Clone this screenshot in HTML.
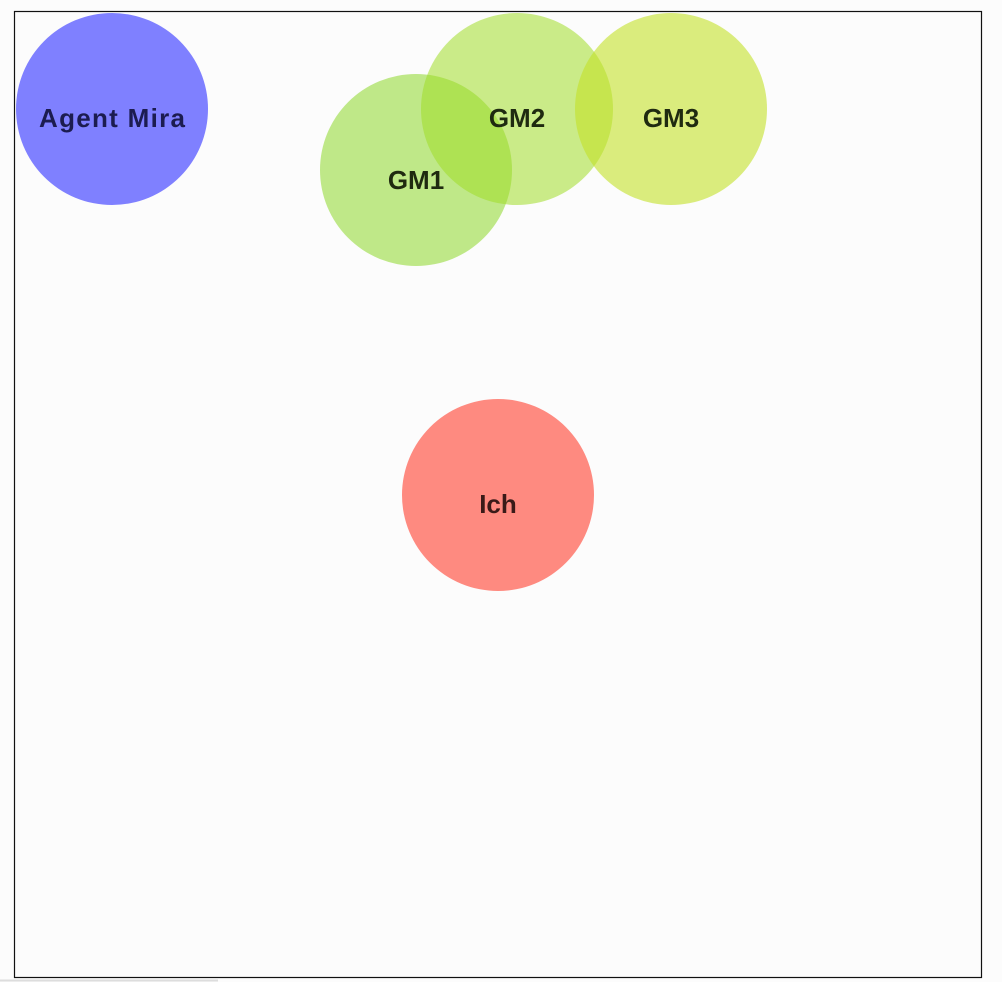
<!DOCTYPE html>
<html><head><style>
html,body{margin:0;padding:0;background:#fcfcfc;width:1002px;height:982px;overflow:hidden}
svg{position:absolute;left:0;top:0}
text{font-family:"Liberation Sans",sans-serif;font-weight:bold;font-size:26px;text-anchor:middle;dominant-baseline:middle}
</style></head><body>
<svg width="1002" height="982">
<rect x="0" y="0" width="1002" height="982" fill="#fcfcfc"/>
<rect x="14.5" y="11.5" width="967" height="966" fill="#fcfcfc" stroke="#111" stroke-width="1.2"/>
<line x1="0" y1="980.5" x2="218" y2="980.5" stroke="#ddd" stroke-width="2"/>
<circle cx="112" cy="109" r="96" fill="#7f80ff"/>
<circle cx="416" cy="170" r="96" fill="rgb(140,215,40)" fill-opacity="0.55"/>
<circle cx="517" cy="109" r="96" fill="rgb(160,220,40)" fill-opacity="0.55"/>
<circle cx="671" cy="109" r="96" fill="rgb(195,225,40)" fill-opacity="0.6"/>
<circle cx="498" cy="495" r="96" fill="#fe8a80"/>
<text x="112" y="120" fill="#1c1c50" textLength="146" lengthAdjust="spacing">Agent Mira</text>
<text x="416" y="182" fill="#1f2a10">GM1</text>
<text x="517" y="120" fill="#1f2a10">GM2</text>
<text x="671" y="120" fill="#1f2a10">GM3</text>
<text x="498" y="506" fill="#3a1a18">Ich</text>
</svg>
</body></html>
